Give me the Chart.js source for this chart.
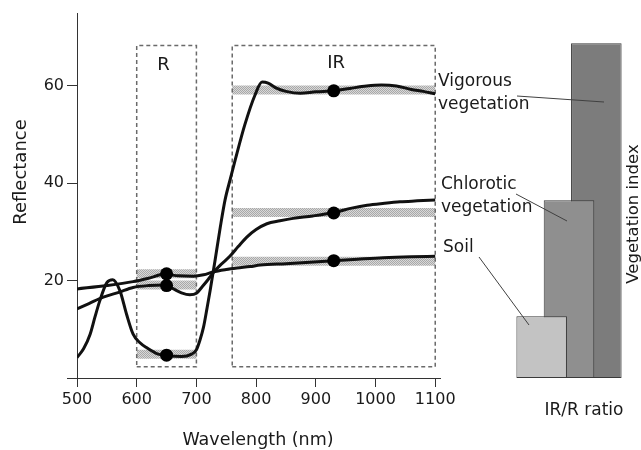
<!DOCTYPE html>
<html>
<head>
<meta charset="utf-8">
<script src="https://cdn.jsdelivr.net/npm/chart.js@4.4.0/dist/chart.umd.min.js"></script>
<style>
  body { margin: 0; background: #fff; }
  #wrap { position: relative; width: 641px; height: 450px; background: #fff; }
  #wrap canvas { position: absolute; left: 0; top: 0; }
</style>
</head>
<body>
<div id="wrap">
  <canvas id="spectra" width="641" height="450"></canvas>
  <canvas id="index" width="641" height="450"></canvas>
</div>
<script>
// reflectance curves (wavelength nm / reflectance)
let vig_x = [500, 511, 522, 530, 538, 550, 560, 572, 583, 594, 605, 617, 636, 656, 675, 692, 700, 706, 712, 718, 723, 731, 740, 748, 757, 765, 781, 798, 810, 820, 835, 850, 874, 900, 930, 957, 985, 1010, 1035, 1060, 1080, 1100];
let vig_y = [4.2, 6.0, 9.0, 12.5, 15.8, 19.6, 20.2, 17.9, 13.1, 9.0, 7.3, 6.2, 4.9, 4.5, 4.4, 4.9, 5.8, 7.8, 10.5, 14.5, 18.0, 24.0, 31.0, 36.6, 41.0, 44.8, 52.0, 58.1, 60.8, 60.6, 59.5, 58.9, 58.5, 58.8, 59.0, 59.5, 60.0, 60.2, 60.0, 59.3, 58.9, 58.4];

let chl_x = [500, 520, 544, 570, 594, 620, 646, 660, 675, 689, 700, 710, 720, 728, 740, 756, 770, 784, 800, 818, 840, 862, 895, 930, 960, 986, 1015, 1041, 1070, 1100];
let chl_y = [14.2, 15.3, 16.6, 17.6, 18.6, 19.0, 19.1, 18.4, 17.5, 17.1, 17.4, 18.8, 20.3, 21.6, 23.2, 25.0, 27.0, 28.9, 30.5, 31.7, 32.3, 32.8, 33.3, 34.0, 34.9, 35.5, 35.9, 36.2, 36.4, 36.6];

let soil_x = [500, 550, 594, 620, 646, 670, 695, 712, 728, 750, 768, 790, 807, 850, 890, 930, 970, 1013, 1060, 1100];
let soil_y = [18.3, 19.0, 19.8, 20.5, 21.3, 21.0, 20.9, 21.2, 21.8, 22.3, 22.6, 22.9, 23.2, 23.5, 23.8, 24.1, 24.4, 24.7, 24.9, 25.0];

// sampled points in the two bands
let dot_x = [650, 650, 650, 930, 930, 930];
let dot_y = [21.4, 19.0, 4.7, 59.0, 33.9, 24.1];

// band windows and shaded levels
let r_range = [600, 700];
let ir_range = [760, 1100];
let box_range = [2.3, 68.3];
let r_levels = [21.4, 19.1, 4.9];
let ir_levels = [59.2, 34.0, 24.0];

let x_ticks = [500, 600, 700, 800, 900, 1000, 1100];
let y_ticks = [20, 40, 60];

// vegetation index bars
let surfaces = ['Vigorous vegetation', 'Chlorotic vegetation', 'Soil'];
let veg_index = [68.8, 36.5, 12.7];

Chart.defaults.font.family = "'DejaVu Sans', sans-serif";
Chart.defaults.color = '#1a1a1a';

function stipple() {
    let c = document.createElement('canvas');
    c.width = 2;
    c.height = 2;
    let g = c.getContext('2d');
    g.fillStyle = '#d8d8d8';
    g.fillRect(0, 0, 2, 2);
    g.fillStyle = '#a8a8a8';
    g.fillRect(0, 0, 1, 1);
    g.fillRect(1, 1, 1, 1);
    return g.createPattern(c, 'repeat');
}

function pts(xs, ys) {
    return xs.map((x, i) => ({ x: x, y: ys[i] }));
}

let band_pat = stipple();
let datasets = [];

// dots on top
datasets.push({
    data: pts(dot_x, dot_y),
    pointRadius: 6.5,
    pointBackgroundColor: '#000',
    pointBorderWidth: 0,
    showLine: false,
    order: 0
});

[[vig_x, vig_y], [chl_x, chl_y], [soil_x, soil_y]].forEach(c => {
    datasets.push({
        data: pts(c[0], c[1]),
        borderColor: '#111',
        borderWidth: 3,
        pointRadius: 0,
        showLine: true,
        cubicInterpolationMode: 'monotone',
        order: 1
    });
});

[r_range, ir_range].forEach(rg => {
    datasets.push({
        data: [
            { x: rg[0], y: box_range[0] }, { x: rg[1], y: box_range[0] },
            { x: rg[1], y: box_range[1] }, { x: rg[0], y: box_range[1] },
            { x: rg[0], y: box_range[0] }
        ],
        borderColor: '#6a6a6a',
        borderWidth: 1.5,
        borderDash: [4, 3],
        pointRadius: 0,
        showLine: true,
        tension: 0,
        order: 2
    });
});

[[r_range, r_levels], [ir_range, ir_levels]].forEach(b => {
    b[1].forEach(v => {
        datasets.push({
            data: [{ x: b[0][0], y: v }, { x: b[0][1], y: v }],
            borderColor: band_pat,
            borderWidth: 9,
            borderCapStyle: 'butt',
            pointRadius: 0,
            showLine: true,
            order: 3
        });
    });
});

let spectra_text = {
    id: 'spectra_text',
    afterDraw(chart) {
        let ctx = chart.ctx;
        let xs = chart.scales.x, ys = chart.scales.y;
        ctx.save();
        ctx.fillStyle = '#1a1a1a';
        ctx.textAlign = 'center';
        ctx.textBaseline = 'middle';
        ctx.font = "18px 'DejaVu Sans'";
        ctx.fillText('R', xs.getPixelForValue((r_range[0] + r_range[1]) / 2) - 3, ys.getPixelForValue(64.3));
        ctx.fillText('IR', xs.getPixelForValue(934), ys.getPixelForValue(64.6));
        ctx.font = "17.5px 'DejaVu Sans'";
        ctx.fillText('Wavelength (nm)', 258, 440);
        ctx.translate(21, 172);
        ctx.rotate(-Math.PI / 2);
        ctx.font = "18px 'DejaVu Sans'";
        ctx.fillText('Reflectance', 0, 0);
        ctx.restore();
    }
};

new Chart(document.getElementById('spectra'), {
    type: 'scatter',
    data: { datasets: datasets },
    options: {
        responsive: false,
        animation: false,
        layout: { padding: { top: 13, right: 201, left: 0, bottom: 0 } },
        scales: {
            x: {
                type: 'linear',
                min: 500,
                max: 1108,
                afterFit(scale) { scale.height = 72; },
                afterBuildTicks(scale) { scale.ticks = x_ticks.map(v => ({ value: v })); },
                border: { display: true, color: '#333', width: 1 },
                grid: { drawOnChartArea: false, drawTicks: true, tickLength: 9, color: '#333' },
                ticks: {
                    font: { size: 16 },
                    color: '#1a1a1a',
                    padding: 3,
                    maxRotation: 0,
                    callback: v => String(v)
                }
            },
            y: {
                min: 0,
                max: 75,
                afterFit(scale) { scale.width = 77; },
                afterBuildTicks(scale) { scale.ticks = [0].concat(y_ticks).map(v => ({ value: v })); },
                border: { display: true, color: '#333', width: 1 },
                grid: { drawOnChartArea: false, drawTicks: true, tickLength: 10, color: '#333' },
                ticks: {
                    font: { size: 16 },
                    color: '#1a1a1a',
                    padding: 3,
                    callback: v => (v === 0 ? '' : String(v))
                }
            }
        },
        plugins: { legend: { display: false }, tooltip: { enabled: false } }
    },
    plugins: [spectra_text]
});

// labels next to the bars, with leader lines
let leaders = [
    { lines: ['Vigorous', 'vegetation'], x: 438, y: 82, from: [517, 96], to: [604, 102] },
    { lines: ['Chlorotic', 'vegetation'], x: 441, y: 185, from: [516, 194], to: [567, 221] },
    { lines: ['Soil'], x: 443, y: 248, from: [479, 257], to: [529, 325] }
];

let index_text = {
    id: 'index_text',
    afterDraw(chart) {
        let ctx = chart.ctx;
        ctx.save();
        ctx.fillStyle = '#1a1a1a';
        ctx.textBaseline = 'middle';
        ctx.textAlign = 'left';
        ctx.font = "17px 'DejaVu Sans'";
        leaders.forEach(l => {
            l.lines.forEach((t, i) => ctx.fillText(t, l.x, l.y + i * 23));
            ctx.beginPath();
            ctx.strokeStyle = '#404040';
            ctx.lineWidth = 1;
            ctx.moveTo(l.from[0], l.from[1]);
            ctx.lineTo(l.to[0], l.to[1]);
            ctx.stroke();
        });
        ctx.textAlign = 'center';
        ctx.fillText('IR/R ratio', 584, 411);
        ctx.translate(634, 214);
        ctx.rotate(-Math.PI / 2);
        ctx.font = "16.5px 'DejaVu Sans'";
        ctx.fillText('Vegetation index', 0, 0);
        ctx.restore();
    }
};

new Chart(document.getElementById('index'), {
    type: 'bar',
    data: {
        labels: surfaces,
        datasets: [{
            data: veg_index,
            backgroundColor: ['#7c7c7c', '#8f8f8f', '#c3c3c3'],
            borderColor: '#3a3a3a',
            borderWidth: 1,
            borderSkipped: false,
            barPercentage: 1.85,
            categoryPercentage: 1,
            clip: false
        }]
    },
    options: {
        responsive: false,
        animation: false,
        layout: { padding: { left: 528, right: 31, top: 13, bottom: 72 } },
        scales: {
            x: { display: false, reverse: true },
            y: { display: false, min: 0, max: 75 }
        },
        plugins: { legend: { display: false }, tooltip: { enabled: false } }
    },
    plugins: [index_text]
});
</script>
</body>
</html>
